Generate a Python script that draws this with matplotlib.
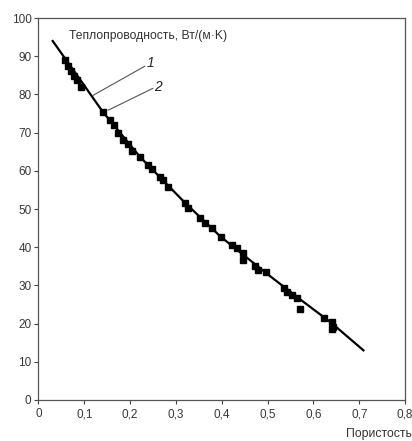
import matplotlib
matplotlib.use("Agg")
import matplotlib.pyplot as plt
from matplotlib.ticker import FuncFormatter

plt.rcParams['font.family'] = ['Liberation Sans', 'DejaVu Sans']

# Experimental points: porosity vs thermal conductivity, W/(m·K)
porosity = [0.058, 0.065, 0.072, 0.078, 0.083, 0.092, 0.140, 0.156, 0.165, 0.174,
            0.185, 0.196, 0.204, 0.222, 0.240, 0.247, 0.265, 0.272, 0.283, 0.320,
            0.327, 0.353, 0.364, 0.378, 0.398, 0.422, 0.433, 0.447, 0.447, 0.473,
            0.480, 0.497, 0.535, 0.542, 0.553, 0.564, 0.571, 0.622, 0.640, 0.643,
            0.640]
conductivity = [89.0, 87.4, 86.1, 84.8, 83.8, 82.0, 75.5, 73.2, 71.9, 69.8,
                68.1, 66.9, 65.2, 63.6, 61.5, 60.6, 58.4, 57.5, 55.9, 51.6,
                50.3, 47.7, 46.4, 45.1, 42.8, 40.7, 39.7, 38.4, 36.6, 35.0,
                34.1, 33.4, 29.2, 28.3, 27.5, 26.6, 23.7, 21.4, 20.5, 19.2,
                18.5]

# Calculated curve (1)
curve_porosity = [0.031, 0.099, 0.140, 0.222, 0.320, 0.398, 0.497, 0.567, 0.639, 0.709]
curve_conductivity = [94.0, 82.5, 75.5, 63.6, 51.6, 42.7, 33.2, 26.7, 20.2, 13.0]

x_ticks = [0, 0.1, 0.2, 0.3, 0.4, 0.5, 0.6, 0.7, 0.8]
y_ticks = [0, 10, 20, 30, 40, 50, 60, 70, 80, 90, 100]

fig = plt.figure(figsize=(4.12, 4.41), dpi=100)
ax = fig.add_axes([0.0934, 0.093, 0.890, 0.866])

ax.plot(curve_porosity, curve_conductivity, color='black', lw=1.6, zorder=2)
ax.plot(porosity, conductivity, linestyle='none', marker='s', ms=4.9,
        color='black', zorder=3)

ax.set_xlim(0, 0.8)
ax.set_ylim(0, 100)
ax.set_xticks(x_ticks)
ax.set_yticks(y_ticks)

def comma(v, pos):
    if abs(v) < 1e-9:
        return '0'
    return ('%.1f' % v).replace('.', ',')

ax.xaxis.set_major_formatter(FuncFormatter(comma))
ax.tick_params(axis='both', direction='out', length=3, width=0.8,
               colors='#444444', labelsize=8.5, labelcolor='#383838', pad=2)
ax.tick_params(axis='x', pad=3)
for s in ax.spines.values():
    s.set_color('#555555')
    s.set_linewidth(0.9)

ax.text(0.084, 0.968, 'Теплопроводность, Вт/(м·K)', transform=ax.transAxes,
        fontsize=8.7, color='#333333', va='top', ha='left')
fig.text(346 / 412, 4 / 441, 'Пористость', fontsize=8.8, color='#333333',
         ha='left', va='baseline')

# Leader lines with labels
ax.plot([0.1195, 0.232], [79.8, 87.4], color='#555555', lw=0.8)
ax.plot([0.1525, 0.2495], [75.9, 81.6], color='#555555', lw=0.8)
ax.text(0.245, 88.3, '1', fontsize=10, style='italic', color='#222222',
        ha='center', va='center')
ax.text(0.260, 82.0, '2', fontsize=10, style='italic', color='#222222',
        ha='center', va='center')

fig.savefig('out.png', dpi=100)
